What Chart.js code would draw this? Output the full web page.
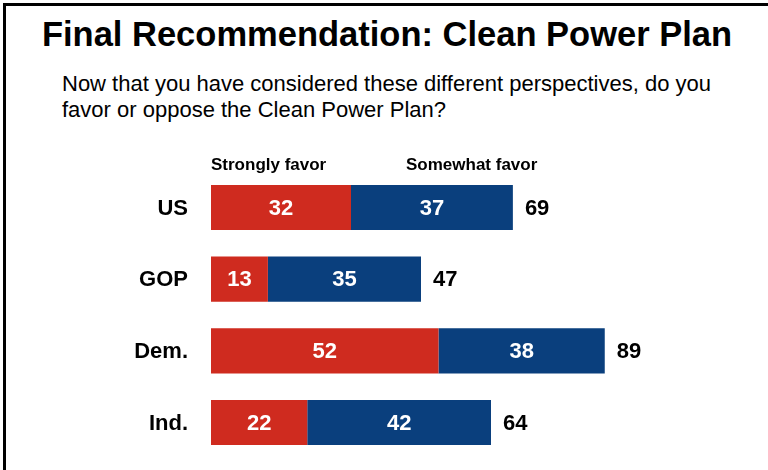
<!DOCTYPE html>
<html>
<head>
<meta charset="utf-8">
<script src="https://cdn.jsdelivr.net/npm/chart.js@4.4.1/dist/chart.umd.min.js"></script>
<style>
  html, body { margin: 0; padding: 0; background: #fff; }
  #wrap { position: relative; width: 768px; height: 470px; overflow: hidden; font-family: "Liberation Sans", Arial, sans-serif; }
  #frame { position: absolute; left: 3px; top: 3px; width: 800px; height: 500px; border-left: 3px solid #000; border-top: 3px solid #000; }
  #title { position: absolute; left: 0; width: 774px; top: 15px; text-align: center; font-size: 34.5px; font-weight: bold; color: #000; }
  #sub { position: absolute; left: 62px; top: 71px; font-size: 22px; line-height: 26px; color: #000; }
  #c { position: absolute; left: 0; top: 0; }
</style>
</head>
<body>
<div id="wrap">
  <div id="frame"></div>
  <div id="title">Final Recommendation: Clean Power Plan</div>
  <div id="sub">Now that you have considered these different perspectives, do you<br>favor or oppose the Clean Power Plan?</div>
  <canvas id="c" width="768" height="470"></canvas>
</div>
<script>
// 数据
const groups = ['US', 'GOP', 'Dem.', 'Ind.'];
const stronglyFavor = [32, 13, 52, 22];
const somewhatFavor = [37, 35, 38, 42];
const totalFavor = [69, 47, 89, 64];
const seriesNames = ['Strongly favor', 'Somewhat favor'];

const RED = '#CF2B1F';
const BLUE = '#0A3F7D';
const FONT = '"Liberation Sans", Arial, sans-serif';

// 自定义标签：分组名、条内数值、总计、列标题
const labelPlugin = {
  id: 'labels',
  afterDatasetsDraw(chart) {
    const ctx = chart.ctx;
    const area = chart.chartArea;
    const xs = chart.scales.x;
    ctx.save();

    // 列标题
    ctx.font = 'bold 17px ' + FONT;
    ctx.fillStyle = '#000';
    ctx.textAlign = 'left';
    ctx.textBaseline = 'alphabetic';
    ctx.fillText(seriesNames[0], area.left, 170);
    ctx.fillText(seriesNames[1], area.left + 195, 170);

    ctx.textBaseline = 'middle';
    ctx.font = 'bold 22px ' + FONT;
    chart.data.datasets.forEach((ds, di) => {
      const meta = chart.getDatasetMeta(di);
      meta.data.forEach((bar, i) => {
        const cx = (bar.x + bar.base) / 2;
        ctx.fillStyle = '#fff';
        ctx.textAlign = 'center';
        ctx.fillText(String(ds.data[i]), cx, bar.y + 1);
      });
    });

    const last = chart.getDatasetMeta(chart.data.datasets.length - 1);
    last.data.forEach((bar, i) => {
      ctx.fillStyle = '#000';
      ctx.textAlign = 'left';
      ctx.fillText(String(totalFavor[i]), bar.x + 12, bar.y + 1);
      ctx.textAlign = 'right';
      ctx.fillText(groups[i], xs.left - 23, bar.y + 1);
    });
    ctx.restore();
  }
};

new Chart(document.getElementById('c'), {
  type: 'bar',
  data: {
    labels: groups,
    datasets: [
      { label: seriesNames[0], data: stronglyFavor, backgroundColor: RED, borderWidth: 0 },
      { label: seriesNames[1], data: somewhatFavor, backgroundColor: BLUE, borderWidth: 0 }
    ]
  },
  options: {
    indexAxis: 'y',
    responsive: false,
    animation: false,
    datasets: { bar: { categoryPercentage: 1, barPercentage: 0.63 } },
    layout: { padding: { left: 211, right: 119.5, top: 171.7, bottom: 11.7 } },
    scales: {
      x: { stacked: true, min: 0, max: 100, display: false },
      y: { stacked: true, display: false }
    },
    plugins: {
      legend: { display: false },
      tooltip: { enabled: false },
      title: { display: false }
    }
  },
  plugins: [labelPlugin]
});
</script>
</body>
</html>
